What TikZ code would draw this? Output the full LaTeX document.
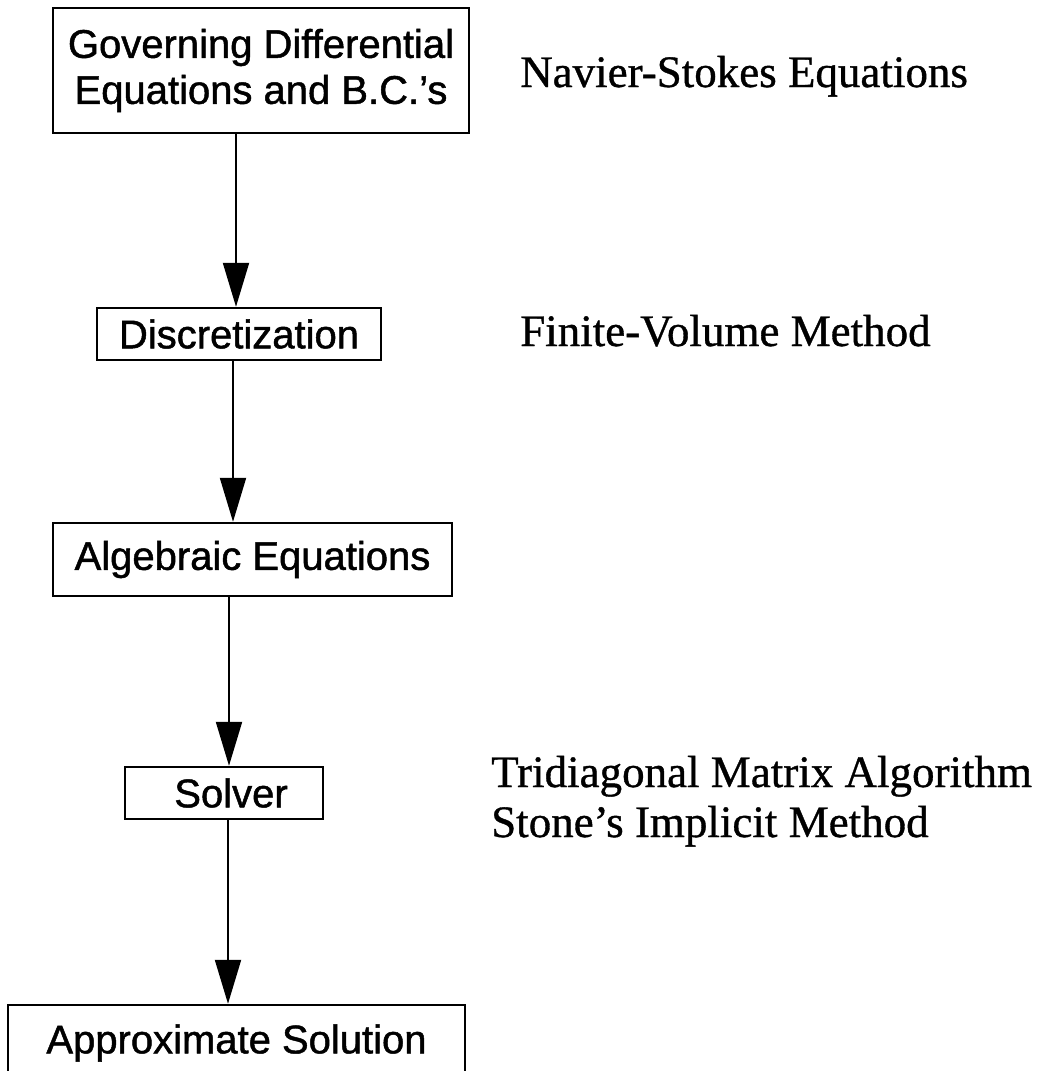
\documentclass[tikz,border=0pt]{standalone}
\usepackage{fontspec}
\setmainfont{Liberation Serif}[FakeBold=0.8]
\setsansfont{Liberation Sans}[FakeBold=1.2]
\usetikzlibrary{arrows.meta}
\begin{document}
\begin{tikzpicture}[x=1pt,y=-1pt,
  box/.style={draw, line width=2.4pt, inner sep=0pt, align=center,
    font=\sffamily\fontsize{40}{46}\selectfont},
  note/.style={anchor=base west, inner sep=0pt,
    font=\rmfamily\fontsize{45}{50}\selectfont},
  arr/.style={line width=2pt, -{Triangle[length=44pt,width=26pt]}}]
\useasboundingbox (0,0) rectangle (1043,1071);
\fill[white] (0,0) rectangle (1043,1071);
% boxes
\node[box, minimum width=416pt, minimum height=125pt] (b1) at (261,70.5)
  {Governing Differential\\Equations and B.C.'s};
\node[box, minimum width=284pt, minimum height=52pt] (b2) at (239,334) {Discretization};
\node[box, minimum width=399pt, minimum height=73pt] (b3) at (252.5,559.5) {Algebraic Equations};
\node[box, minimum width=198pt, minimum height=52pt] (b4) at (224,793) {\hspace*{14pt}Solver};
\node[box, minimum width=457pt, minimum height=76pt] (b5) at (236.5,1043) {Approximate Solution};
% notes
\node[note] (n1) at (520,87) {Navier-Stokes Equations};
\node[note] (n2) at (520,346) {Finite-Volume Method};
\node[note] (n3) at (491,787) {Tridiagonal Matrix Algorithm};
\node[note] (n4) at (491,837) {Stone’s Implicit Method};
% connectors
\coordinate (c1) at (236,0);
\coordinate (c2) at (233,0);
\coordinate (c3) at (229,0);
\coordinate (c4) at (228,0);
\draw[arr] (b1.south -| c1) -- (b2.north -| c1);
\draw[arr] (b2.south -| c2) -- (b3.north -| c2);
\draw[arr] (b3.south -| c3) -- (b4.north -| c3);
\draw[arr] (b4.south -| c4) -- (b5.north -| c4);
\end{tikzpicture}
\end{document}
